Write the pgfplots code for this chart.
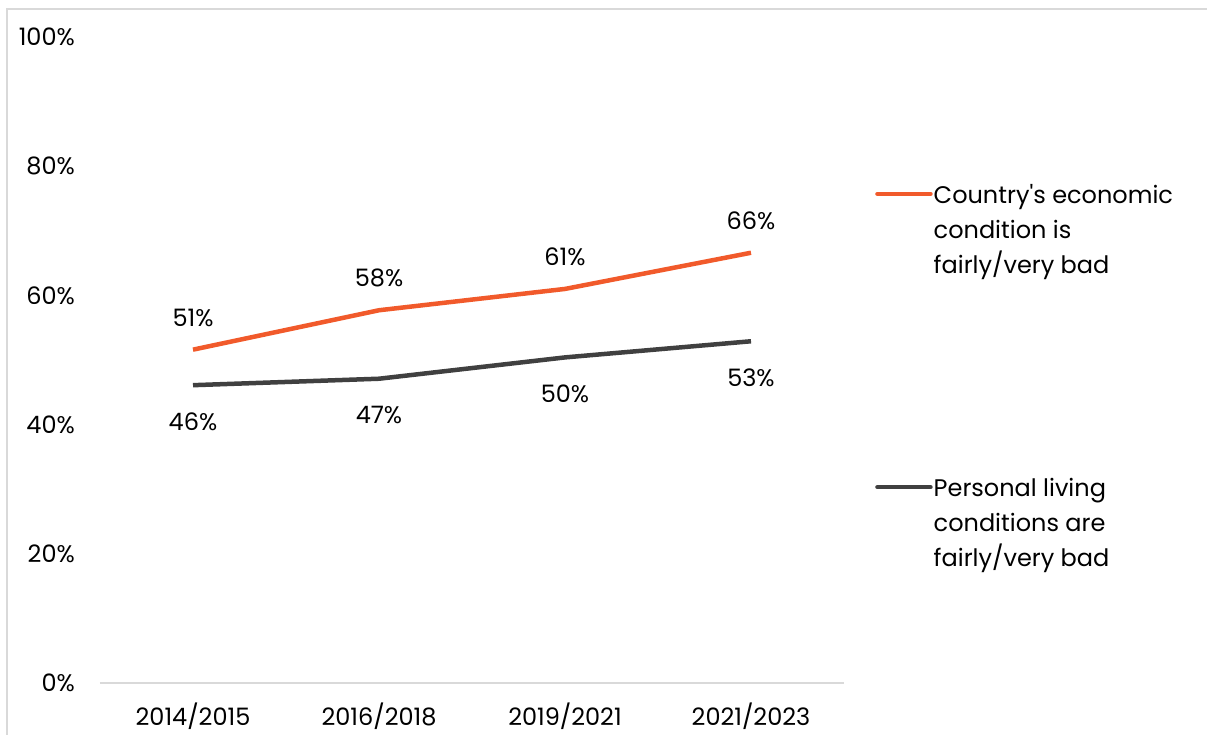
\documentclass[border=0pt]{standalone}
\usepackage{fontspec}
\setmainfont{Poppins}
\usepackage{pgfplots}
\pgfplotsset{compat=1.18}
\definecolor{orangeline}{HTML}{F15A2B}
\definecolor{darkline}{HTML}{404040}
\definecolor{framegray}{HTML}{D9D9D9}

\begin{document}
\fontsize{24}{35}\selectfont
\begin{tikzpicture}[font=\fontsize{24}{35}\selectfont]
\useasboundingbox (0,0) rectangle (1207pt,735pt);
% chart area frame (cut at right and bottom)
\draw[framegray, line width=1.5pt] (7pt,0pt) -- (7pt,726pt) -- (1207pt,726pt);
\begin{axis}[
  at={(100pt,52pt)}, anchor=south west,
  width=744pt, height=646pt, scale only axis,
  xmin=-0.5, xmax=3.5, ymin=0, ymax=100,
  clip=false,
  axis x line*=bottom, axis y line*=left,
  y axis line style={draw=none},
  x axis line style={framegray, line width=1.5pt},
  tick style={draw=none},
  xtick={0,1,2,3},
  xticklabels={2014/2015,2016/2018,2019/2021,2021/2023},
  ytick={0,20,...,100},
  yticklabel={\pgfmathprintnumber{\tick}\%},
  /pgf/number format/assume math mode=true,
  yticklabel style={anchor=east, inner sep=0pt, xshift=-25pt},
  xticklabel style={anchor=north, inner sep=0pt, yshift=-20pt},
  nodes near coords={\pgfmathprintnumber{\pgfplotspointmeta}\%},
  point meta=explicit,
  legend cell align=left,
  legend style={at={(axis description cs:1.0417,0.781)}, anchor=north west,
    draw=none, fill=none, inner sep=0pt, row sep=231pt, column sep=1pt,
    nodes={inner sep=0pt}},
  legend image code/.code={
    \draw[#1, line width=4.5pt, line cap=round] (0pt,16pt) -- (53pt,16pt);},
]
\addplot[orangeline, line width=4.5pt, line join=round,
  nodes near coords style={anchor=south, inner sep=0pt, yshift=21pt, text=black}]
  coordinates {(0,51.6)[51] (1,57.7)[58] (2,61.0)[61] (3,66.6)[66]};
\addlegendentry{\begin{tabular}{@{}l@{}}Country\textquotesingle s economic\\condition is\\fairly/very bad\end{tabular}}
\addplot[darkline, line width=4.5pt, line join=round,
  nodes near coords style={anchor=north, inner sep=0pt, yshift=-25pt, text=black}]
  coordinates {(0,46.1)[46] (1,47.1)[47] (2,50.4)[50] (3,52.9)[53]};
\addlegendentry{\begin{tabular}{@{}l@{}}Personal living\\conditions are\\fairly/very bad\end{tabular}}
\end{axis}
\end{tikzpicture}
\end{document}
